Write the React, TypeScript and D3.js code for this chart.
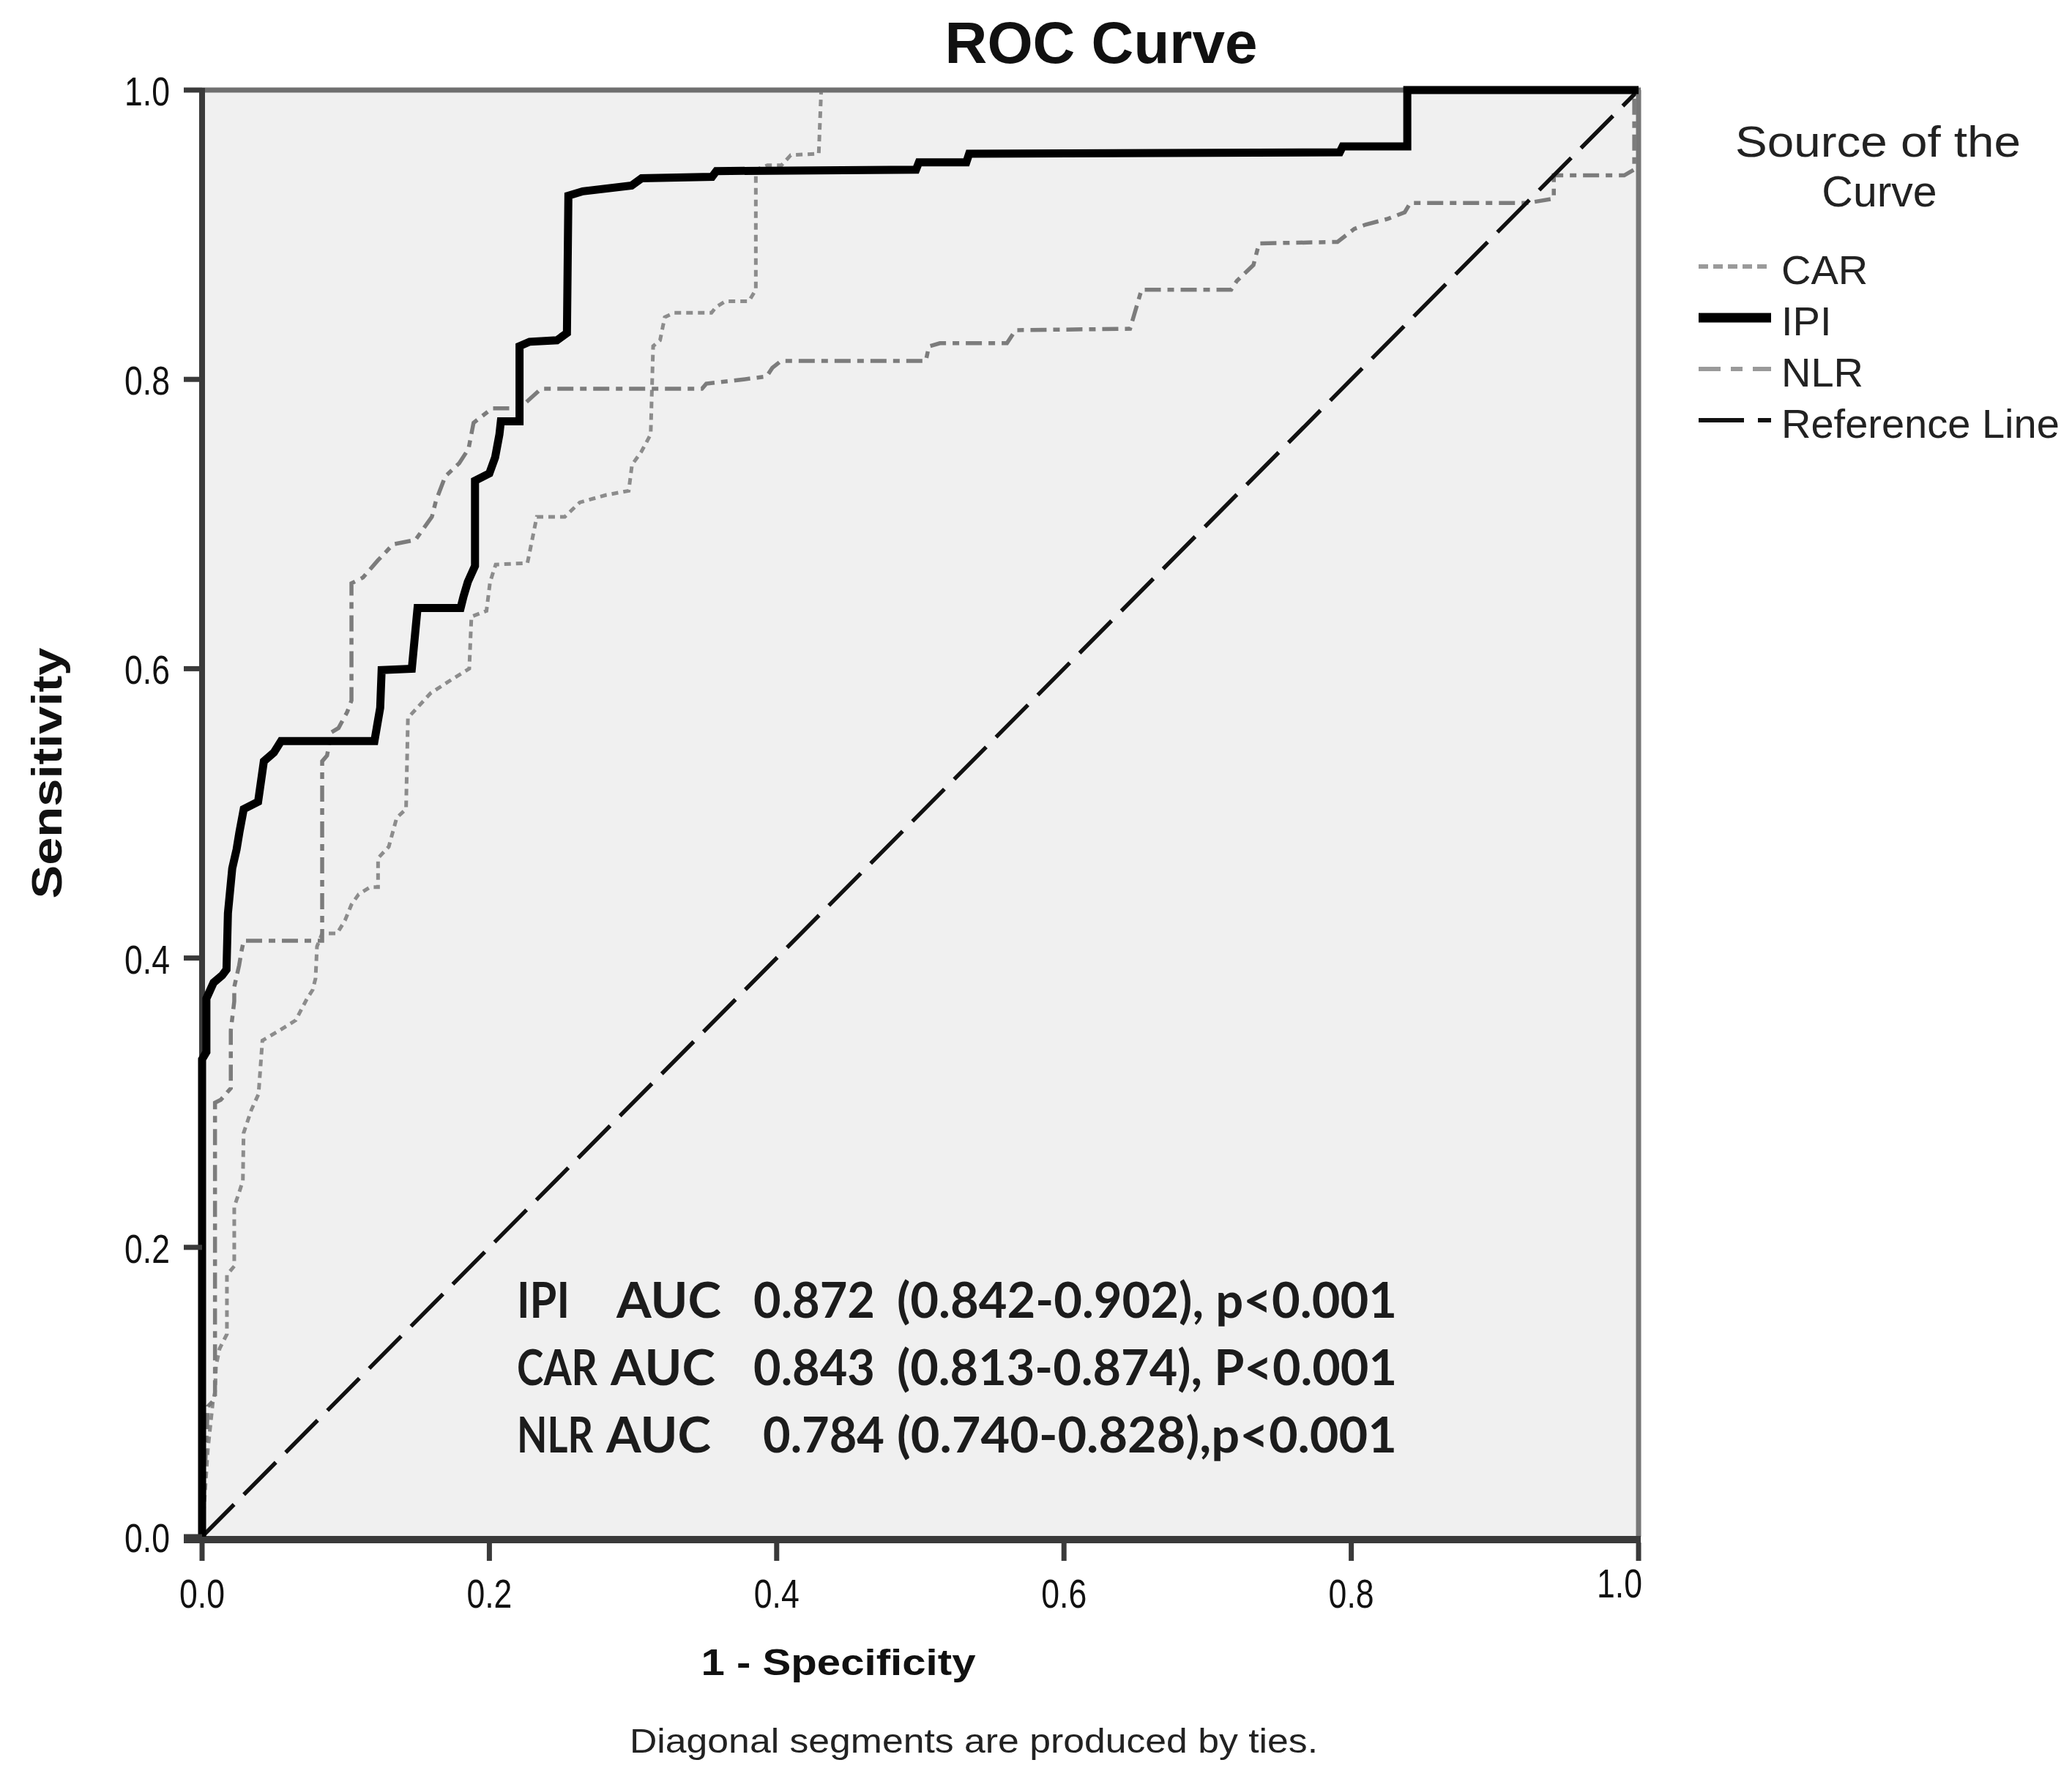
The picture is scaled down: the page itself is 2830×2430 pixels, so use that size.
import React from 'react';
import * as d3 from 'd3';

type Pt = [number, number];

// ROC points: [1 - specificity, sensitivity]
const ipiPoints: Pt[] = [
  [0, 0], [0, 0.33], [0.003, 0.335], [0.003, 0.372], [0.008, 0.383], [0.014, 0.388],
  [0.017, 0.392], [0.018, 0.431], [0.021, 0.462], [0.024, 0.475], [0.026, 0.487],
  [0.029, 0.503], [0.039, 0.508], [0.043, 0.536], [0.05, 0.542], [0.055, 0.55],
  [0.12, 0.55], [0.124, 0.573], [0.125, 0.599], [0.146, 0.6], [0.15, 0.642],
  [0.18, 0.642], [0.182, 0.65], [0.185, 0.66], [0.19, 0.671], [0.19, 0.73],
  [0.2, 0.735], [0.204, 0.746], [0.207, 0.762], [0.208, 0.771], [0.221, 0.771],
  [0.221, 0.823], [0.228, 0.826], [0.247, 0.827], [0.254, 0.832], [0.255, 0.927],
  [0.265, 0.93], [0.299, 0.934], [0.306, 0.939], [0.355, 0.94], [0.358, 0.944],
  [0.497, 0.945], [0.499, 0.95], [0.532, 0.95], [0.534, 0.956], [0.792, 0.957],
  [0.794, 0.961], [0.839, 0.961], [0.839, 1], [1, 1],
];

const carPoints: Pt[] = [
  [0, 0], [0.004, 0.06], [0.0075, 0.093], [0.009, 0.1], [0.0097, 0.118], [0.0122, 0.13],
  [0.0173, 0.14], [0.0173, 0.181], [0.0224, 0.187], [0.0224, 0.228], [0.0258, 0.238],
  [0.0284, 0.246], [0.0289, 0.279], [0.0343, 0.295], [0.0393, 0.306], [0.042, 0.343],
  [0.0523, 0.349], [0.0652, 0.357], [0.0731, 0.372], [0.077, 0.378], [0.079, 0.386],
  [0.08, 0.408], [0.0836, 0.417], [0.094, 0.417], [0.0995, 0.426], [0.104, 0.437],
  [0.109, 0.444], [0.117, 0.449], [0.1225, 0.449], [0.1225, 0.469], [0.13, 0.477],
  [0.1355, 0.497], [0.142, 0.503], [0.1433, 0.566], [0.159, 0.583], [0.1745, 0.593],
  [0.186, 0.6], [0.1875, 0.636], [0.198, 0.64], [0.2005, 0.66], [0.2044, 0.672],
  [0.2265, 0.673], [0.233, 0.705], [0.2525, 0.705], [0.263, 0.715], [0.281, 0.72],
  [0.297, 0.723], [0.2993, 0.741], [0.3058, 0.75], [0.3123, 0.762], [0.314, 0.823],
  [0.3188, 0.827], [0.3221, 0.843], [0.3286, 0.846], [0.3546, 0.846], [0.3578, 0.85],
  [0.3643, 0.854], [0.3806, 0.854], [0.3855, 0.862], [0.3855, 0.945], [0.3936, 0.948],
  [0.4033, 0.948], [0.4098, 0.955], [0.4293, 0.956], [0.431, 1], [1, 1],
];

const nlrPoints: Pt[] = [
  [0, 0], [0.004, 0.09], [0.009, 0.095], [0.009, 0.3], [0.013, 0.302], [0.02, 0.31],
  [0.02, 0.35], [0.0224, 0.37], [0.0224, 0.38], [0.0258, 0.395], [0.0275, 0.405],
  [0.029, 0.412], [0.0836, 0.412], [0.0836, 0.536], [0.087, 0.54], [0.09, 0.556],
  [0.095, 0.559], [0.101, 0.57], [0.104, 0.578], [0.104, 0.659], [0.112, 0.663],
  [0.1225, 0.675], [0.133, 0.686], [0.1485, 0.689], [0.16, 0.705], [0.1628, 0.716],
  [0.1693, 0.733], [0.179, 0.742], [0.1855, 0.752], [0.189, 0.77], [0.202, 0.78],
  [0.221, 0.78], [0.236, 0.7935], [0.348, 0.7935], [0.351, 0.797], [0.377, 0.8],
  [0.393, 0.802], [0.397, 0.808], [0.403, 0.8127], [0.5038, 0.8127], [0.506, 0.8228],
  [0.5136, 0.825], [0.5603, 0.825], [0.5662, 0.834], [0.646, 0.835], [0.654, 0.862],
  [0.7164, 0.862], [0.7203, 0.868], [0.7319, 0.879], [0.7358, 0.894], [0.7904, 0.895],
  [0.8021, 0.904], [0.81, 0.907], [0.8255, 0.911], [0.8372, 0.9155], [0.8411, 0.922],
  [0.923, 0.922], [0.941, 0.925], [0.941, 0.941], [0.99, 0.941], [0.997, 0.945],
  [0.997, 1], [1, 1],
];

const referencePoints: Pt[] = [[0, 0], [1, 1]];

const axisTicks = [0, 0.2, 0.4, 0.6, 0.8, 1.0];

const legendLabels = ['CAR', 'IPI', 'NLR', 'Reference Line'];

const aucNames = ['IPI', 'CAR', 'NLR'];
const aucValues = ['0.872', '0.843', '0.784'];
const aucDetails = ['(0.842-0.902), p<0.001', '(0.813-0.874), P<0.001', '(0.740-0.828),p<0.001'];

const W = 2830;
const H = 2430;
const plot = { left: 276, right: 2238, top: 123, bottom: 2099 };

const sans = '"Liberation Sans", Arial, sans-serif';
const calibriLike = 'Lato, "Open Sans", sans-serif';

// line styles per curve, in legend order
const styles: Record<string, { stroke: string; width: number; dash?: string }> = {
  CAR: { stroke: '#8c8c8c', width: 5, dash: '9 7' },
  IPI: { stroke: '#000', width: 11 },
  NLR: { stroke: '#7c7c7c', width: 5.5, dash: '22 9 9 9' },
  'Reference Line': { stroke: '#111', width: 5.5, dash: '62 19' },
};

export default function App() {
  const x = d3.scaleLinear().domain([0, 1]).range([plot.left, plot.right]);
  const y = d3.scaleLinear().domain([0, 1]).range([plot.bottom, plot.top]);
  const line = d3.line<Pt>().x((d) => x(d[0])).y((d) => y(d[1]));

  const curve = (pts: Pt[], key: string) => {
    const s = styles[key];
    return (
      <path
        d={line(pts) || ''}
        fill="none"
        stroke={s.stroke}
        strokeWidth={s.width}
        strokeDasharray={s.dash}
        strokeLinejoin="miter"
        strokeLinecap="butt"
      />
    );
  };

  const legendX0 = 2320;
  const legendX1 = 2419;
  const legendRowY = (i: number) => 364 + i * 70;

  // widths of the AUC label columns (name / "AUC")
  const nameWidth = (n: string) => (n === 'IPI' ? 72 : n === 'CAR' ? 110 : 104);
  const aucWordX = (n: string) => (n === 'IPI' ? 842 : n === 'CAR' ? 834 : 828);

  return (
    <svg
      width={W}
      height={H}
      viewBox={`0 0 ${W} ${H}`}
      style={{ position: 'absolute', left: 0, top: 0, display: 'block', background: '#fff' }}
    >
      {/* title */}
      <text x={1504} y={86} textAnchor="middle" fontFamily={sans} fontWeight="bold" fontSize={80} fill="#111">
        ROC Curve
      </text>

      {/* plot background */}
      <rect
        x={plot.left}
        y={plot.top}
        width={plot.right - plot.left}
        height={plot.bottom - plot.top}
        fill="#f0f0f0"
      />

      {/* curves */}
      {curve(carPoints, 'CAR')}
      {curve(nlrPoints, 'NLR')}
      {curve(referencePoints, 'Reference Line')}

      {/* frame */}
      <line x1={plot.left} x2={plot.right + 3} y1={plot.top} y2={plot.top} stroke="#6f6f6f" strokeWidth={7} />
      <line x1={plot.right} x2={plot.right} y1={plot.top} y2={plot.bottom} stroke="#777" strokeWidth={7} />
      <line x1={plot.left} x2={plot.left} y1={plot.top - 3} y2={plot.bottom} stroke="#3a3a3a" strokeWidth={8} />
      <line x1={plot.left - 25} x2={plot.right + 3} y1={plot.bottom + 4} y2={plot.bottom + 4} stroke="#3a3a3a" strokeWidth={10} />

      {curve(ipiPoints, 'IPI')}

      {/* y axis ticks and labels */}
      {axisTicks.map((t) => (
        <g key={`y${t}`}>
          <line x1={plot.left - 25} x2={plot.left} y1={y(t)} y2={y(t)} stroke="#3a3a3a" strokeWidth={7} />
          <text
            x={232}
            y={y(t) + 21}
            textAnchor="end"
            fontFamily={sans}
            fontSize={56}
            textLength={62}
            lengthAdjust="spacingAndGlyphs"
            fill="#111"
          >
            {t.toFixed(1)}
          </text>
        </g>
      ))}

      {/* x axis ticks and labels */}
      {axisTicks.map((t, i) => {
        const last = i === axisTicks.length - 1;
        return (
          <g key={`x${t}`}>
            <line x1={x(t)} x2={x(t)} y1={plot.bottom + 8} y2={plot.bottom + 33} stroke="#3a3a3a" strokeWidth={7} />
            <text
              x={last ? x(t) + 5 : x(t)}
              y={last ? 2182 : 2196}
              textAnchor={last ? 'end' : 'middle'}
              fontFamily={sans}
              fontSize={56}
              textLength={62}
              lengthAdjust="spacingAndGlyphs"
              fill="#111"
            >
              {t.toFixed(1)}
            </text>
          </g>
        );
      })}

      {/* axis titles */}
      <text x={1145} y={2288} textAnchor="middle" fontFamily={sans} fontWeight="bold" fontSize={50}
        textLength={375} lengthAdjust="spacingAndGlyphs" fill="#111">
        1 - Specificity
      </text>
      <text
        transform={`translate(84, 1056) rotate(-90)`}
        textAnchor="middle"
        fontFamily={sans}
        fontWeight="bold"
        fontSize={58}
        textLength={343}
        lengthAdjust="spacingAndGlyphs"
        fill="#111"
      >
        Sensitivity
      </text>

      {/* footnote */}
      <text x={1330} y={2394} textAnchor="middle" fontFamily={sans} fontSize={46}
        textLength={940} lengthAdjust="spacingAndGlyphs" fill="#222">
        Diagonal segments are produced by ties.
      </text>

      {/* AUC summary */}
      {aucNames.map((name, i) => {
        const by = 1800 + i * 92;
        return (
          <g key={name} fontFamily={calibriLike} fontWeight="bold" fontSize={66} fill="#1c1c1c">
            <text x={706} y={by} textLength={nameWidth(name)} lengthAdjust="spacingAndGlyphs">{name}</text>
            <text x={aucWordX(name)} y={by} textLength={143} lengthAdjust="spacingAndGlyphs">AUC</text>
            <text x={i === 2 ? 1042 : 1029} y={by} textLength={166} lengthAdjust="spacingAndGlyphs">
              {aucValues[i]}
            </text>
            <text x={1225} y={by} textLength={683} lengthAdjust="spacingAndGlyphs">{aucDetails[i]}</text>
          </g>
        );
      })}

      {/* legend */}
      <text x={2565} y={214} textAnchor="middle" fontFamily={sans} fontSize={59}
        textLength={390} lengthAdjust="spacingAndGlyphs" fill="#222">
        Source of the
      </text>
      <text x={2567} y={282} textAnchor="middle" fontFamily={sans} fontSize={59} fill="#222">
        Curve
      </text>
      {legendLabels.map((lab, i) => {
        const s = styles[lab];
        const ly = legendRowY(i);
        return (
          <g key={lab}>
            <line
              x1={legendX0}
              x2={legendX1}
              y1={ly}
              y2={ly}
              stroke={lab === 'CAR' || lab === 'NLR' ? '#9a9a9a' : s.stroke}
              strokeWidth={lab === 'IPI' ? 13 : 6}
              strokeDasharray={lab === 'NLR' ? '30 14 16 14' : lab === 'CAR' ? '13 7' : s.dash}
            />
            <text x={2433} y={ly + 24} fontFamily={sans} fontSize={56} fill="#222">
              {lab}
            </text>
          </g>
        );
      })}
    </svg>
  );
}
